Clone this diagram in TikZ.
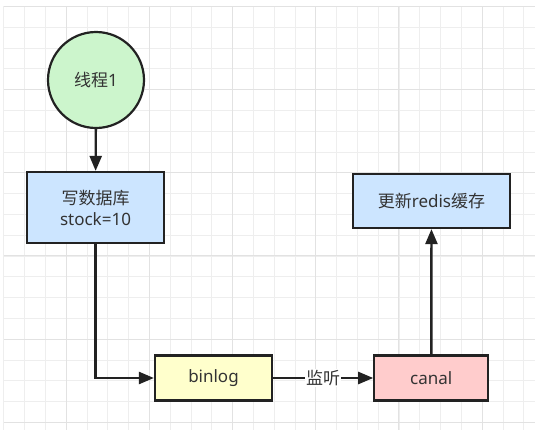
\documentclass[tikz,border=0pt]{standalone}
\usepackage{fontspec}
\setmainfont{Noto Sans}
\newfontfamily\cjk{Noto Sans CJK SC}
\usetikzlibrary{arrows.meta}
\definecolor{gridminor}{HTML}{EEEEEE}
\definecolor{gridmajor}{HTML}{E2E2E2}
\definecolor{threadgreen}{HTML}{CCF5CC}
\definecolor{dbblue}{HTML}{CCE5FF}
\definecolor{logyellow}{HTML}{FFFFCC}
\definecolor{canalpink}{HTML}{FFCCCC}
\definecolor{textgray}{HTML}{333333}
\definecolor{edgeblack}{HTML}{222222}

\begin{document}
\begin{tikzpicture}
  [x=1pt,y=-1pt,
   every node/.style={draw=edgeblack,line width=2.2pt,text=textgray,inner sep=0pt,
     font=\fontsize{17}{21}\selectfont,align=center},
   flow/.style={draw=edgeblack,line width=2.4pt,-{Triangle[length=15pt,width=12pt]}}]
  \useasboundingbox (0,0) rectangle (539,437);
  \fill[white] (0,0) rectangle (539,437);
  % background grid
  \foreach \k in {0,...,25}
    \draw[gridminor,line width=0.8pt] (3.7+20.8*\k,6) -- (3.7+20.8*\k,430);
  \foreach \k in {0,...,20}
    \draw[gridminor,line width=0.8pt] (4,6.3+20.8*\k) -- (535,6.3+20.8*\k);
  \foreach \k in {0,...,5} {
    \draw[gridmajor,line width=1pt] (66.1+83.2*\k,6) -- (66.1+83.2*\k,430);
    \draw[gridmajor,line width=1pt] (4,6.3+83.2*\k) -- (535,6.3+83.2*\k);
  }

  \node[circle,fill=threadgreen,minimum size=96pt] (thread) at (96,80) {{\cjk 线程}1};
  \node[rectangle,fill=dbblue,minimum width=137pt,minimum height=71pt] (db) at (95.5,207.5)
    {{\cjk 写数据库}\\stock=10};
  \node[rectangle,fill=dbblue,minimum width=157pt,minimum height=54pt] (redis) at (431.5,201)
    {{\cjk 更新}redis{\cjk 缓存}};
  \node[rectangle,fill=logyellow,minimum width=117pt,minimum height=45pt] (binlog) at (213.5,378) {binlog};
  \node[rectangle,fill=canalpink,minimum width=114pt,minimum height=45pt] (canal) at (431.3,378) {canal};

  \draw[flow] (thread) -- (db);
  \draw[flow] (db) |- (binlog);
  \draw[flow] (binlog) -- node[draw=none,fill=white,inner sep=1pt] {\cjk 监听} (canal);
  \draw[flow] (canal) -- (redis);
\end{tikzpicture}
\end{document}
